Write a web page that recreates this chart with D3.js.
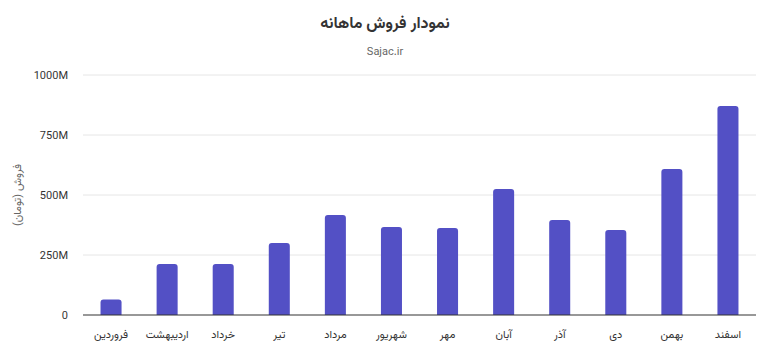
<!DOCTYPE html>
<html><head><meta charset="utf-8">
<script src="https://cdn.jsdelivr.net/npm/d3@7"></script>
<style>body{margin:0;background:#fff;}svg{display:block;}</style>
</head><body><svg id="c" width="770" height="357"></svg>
<script>
const months = ["فروردین","اردیبهشت","خرداد","تیر","مرداد","شهریور","مهر","آبان","آذر","دی","بهمن","اسفند"];
const sales = [65, 212, 212, 300, 417, 367, 362, 525, 396, 354, 608, 871];
const yTicks = [0, 250, 500, 750, 1000];
const yTickLabels = ["0","250M","500M","750M","1000M"];
const title = "نمودار فروش ماهانه";
const subtitle = "Sajac.ir";
const yTitle = "فروش (تومان)";

const W = 770, H = 357;
const m = {left:83, right:14, top:75, bottom:42};
const svg = d3.select("#c");
const font = "Vazirmatn, 'DejaVu Sans', 'Noto Sans', sans-serif";

const x = d3.scaleBand().domain(months).range([m.left, W - m.right]).paddingInner(0.625).paddingOuter(0.3125);
const y = d3.scaleLinear().domain([0, 1000]).range([H - m.bottom, m.top]);

// grid
svg.append("g").selectAll("line").data(yTicks.filter(d=>d>0)).join("line")
  .attr("x1", m.left).attr("x2", W - m.right)
  .attr("y1", d=>y(d)).attr("y2", d=>y(d))
  .attr("stroke", "#e6e6e6").attr("stroke-width", 1);

// y tick labels
svg.append("g").selectAll("text").data(yTicks).join("text")
  .attr("x", 68).attr("y", d=>y(d)).attr("dy", "0.35em")
  .attr("text-anchor", "end").attr("font-family", font).attr("font-size", 11).attr("fill", "#333")
  .text((d,i)=>yTickLabels[i]);

// bars with rounded tops
const r = 3;
svg.append("g").selectAll("path").data(sales).join("path")
  .attr("fill", "#5350c5")
  .attr("d", (d,i)=>{
    const x0 = x(months[i]), w = x.bandwidth(), y0 = y(d), yb = y(0);
    return `M${x0},${yb}L${x0},${y0+r}Q${x0},${y0} ${x0+r},${y0}L${x0+w-r},${y0}Q${x0+w},${y0} ${x0+w},${y0+r}L${x0+w},${yb}Z`;
  });

// x axis line
svg.append("line").attr("x1", m.left).attr("x2", W - m.right)
  .attr("y1", y(0)).attr("y2", y(0)).attr("stroke", "#333").attr("stroke-width", 1.2);

// x labels
svg.append("g").selectAll("text").data(months).join("text")
  .attr("x", d=>x(d)+x.bandwidth()/2).attr("y", 338)
  .attr("text-anchor", "middle").attr("font-family", font).attr("font-size", 11).attr("fill", "#333")
  .attr("direction", "rtl")
  .text(d=>d);

// titles
svg.append("text").attr("x", 385).attr("y", 28).attr("text-anchor", "middle")
  .attr("font-family", font).attr("font-weight", "bold").attr("font-size", 16).attr("fill", "#333")
  .attr("direction", "rtl").text(title);
svg.append("text").attr("x", 385).attr("y", 55).attr("text-anchor", "middle")
  .attr("font-family", font).attr("font-size", 11).attr("fill", "#666").text(subtitle);

// y title
svg.append("text").attr("transform", `translate(21,${(m.top + H - m.bottom)/2}) rotate(-90)`)
  .attr("text-anchor", "middle").attr("font-family", font).attr("font-size", 11).attr("fill", "#666")
  .attr("direction", "rtl").text(yTitle);
</script></body></html>
